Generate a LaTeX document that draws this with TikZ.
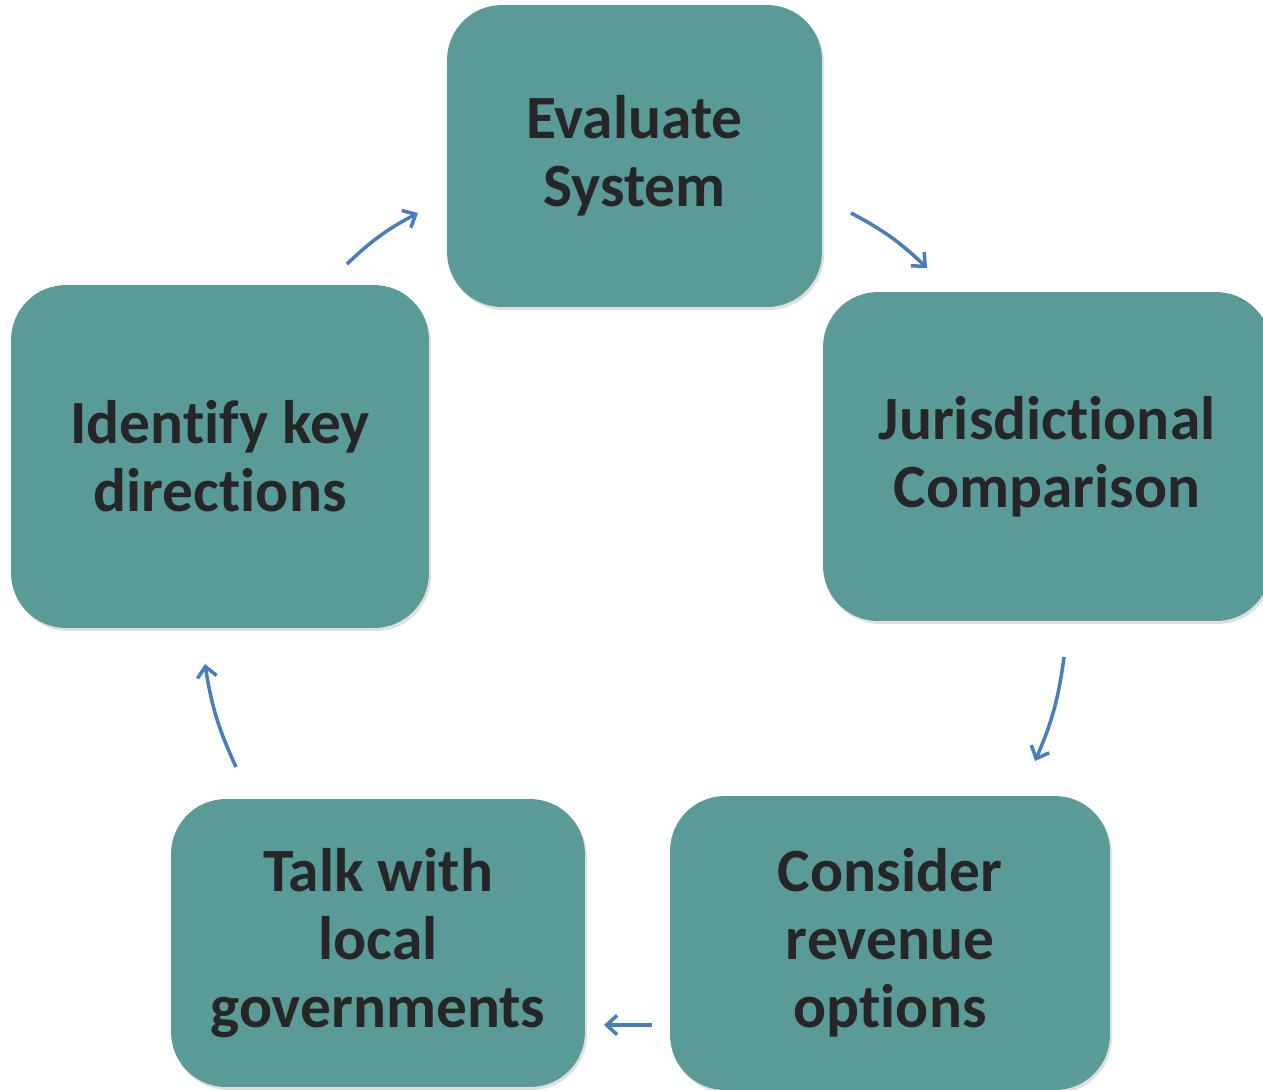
\documentclass[tikz,border=0pt]{standalone}
\usepackage{fontspec}
\setmainfont{Carlito}[RawFeature={-liga;-clig;-calt}]
\usetikzlibrary{arrows.meta,shadows}
\definecolor{stepteal}{HTML}{5A9B98}
\definecolor{steptext}{HTML}{262626}
\definecolor{cyclearrow}{HTML}{4A7EBB}
\begin{document}
\begin{tikzpicture}[x=0.02cm, y=-0.02cm]
	\useasboundingbox (0,0) rectangle (1263,1089);
	
	\begin{scope}[every node/.style={rectangle,fill=stepteal,rounded corners=1.1cm,align=center,
			text=steptext,font=\fontsize{35}{38.7}\selectfont\bfseries,inner sep=0pt,
			drop shadow={shadow xshift=0.04cm,shadow yshift=-0.06cm,opacity=0.25}}]
		\node [minimum width=7.5cm, minimum height=6.04cm] (evaluate) at (634.5,156) {Evaluate\\System};
		\node [minimum width=8.96cm, minimum height=6.58cm] (compare) at (1047,456.5) {Jurisdictional\\Comparison};
		\node [minimum width=8.8cm, minimum height=5.88cm] (revenue) at (890,943) {Consider\\revenue\\options};
		\node [minimum width=8.28cm, minimum height=5.76cm] (talk) at (378,943) {Talk with\\local\\governments};
		\node [minimum width=8.36cm, minimum height=6.86cm] (identify) at (220,456.5) {Identify key\\directions};
	\end{scope}
	
	% arrow ends between the boxes
	\coordinate (a1) at (347,264); \coordinate (b1) at (418,213);
	\coordinate (a2) at (851,213); \coordinate (b2) at (927,268);
	\coordinate (a3) at (1064,657); \coordinate (b3) at (1035,761);
	\coordinate (a4) at (652,1025); \coordinate (b4) at (604,1025);
	\coordinate (a5) at (236,767); \coordinate (b5) at (205,664);
	
	\begin{scope}[cyclearrow, line width=2pt, -{Straight Barb[length=6pt,width=11pt]}]
		\draw (a1) to[bend left=8] (b1);
		\draw (a2) to[bend left=8] (b2);
		\draw (a3) to[bend left=8] (b3);
		\draw (a4) -- (b4);
		\draw (a5) to[bend left=8] (b5);
	\end{scope}
	
\end{tikzpicture}
\end{document}
